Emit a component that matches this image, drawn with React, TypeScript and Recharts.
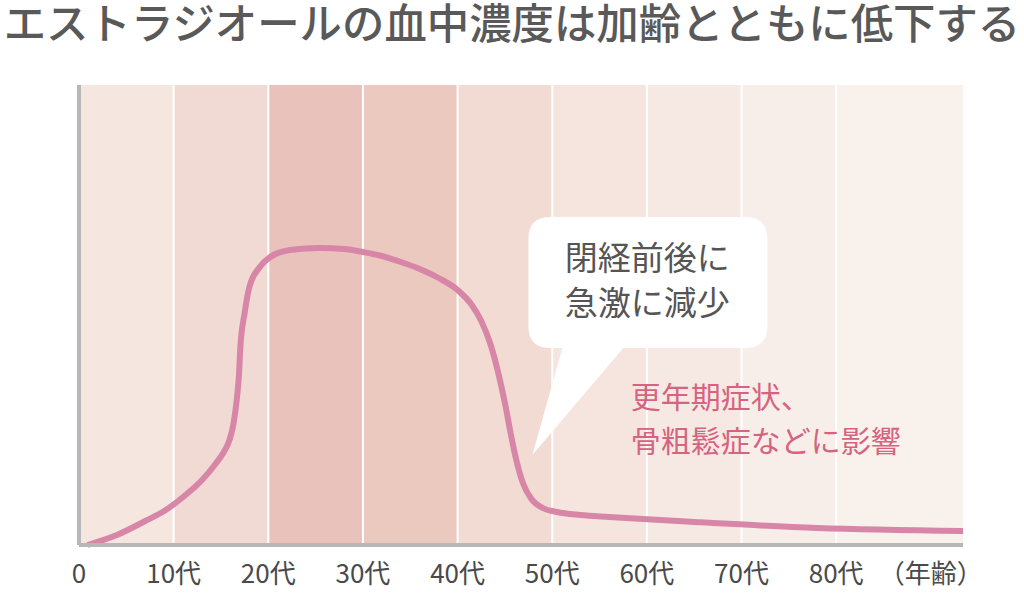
import React from 'react';
import {
  ComposedChart,
  Line,
  XAxis,
  YAxis,
  ReferenceArea,
  ReferenceLine,
  ReferenceDot,
} from 'recharts';

const FONT = '"Noto Sans CJK JP", "Noto Sans", sans-serif';

// curve: age (years) vs relative level
const ages = [
  0.9, 4, 7, 9, 11, 13, 14.5, 15.3, 15.9, 16.3, 16.7, 16.9, 17.05, 17.5, 18.0, 19.1, 20.2, 22.3,
  25.4, 28, 30, 32, 34, 36, 38, 40, 41.5, 42.5, 43.5, 44.3, 45, 45.6, 46.2, 46.9, 47.8, 49, 50.5,
  53, 56, 65, 78, 93.4,
];
const levels = [
  0, 10, 24, 34, 48, 65, 82, 93, 105, 120, 148, 170, 198, 232, 258, 278, 288, 295, 297, 296, 293,
  289, 283, 276, 267, 255, 240, 224, 200, 172, 142, 112, 85, 62, 46, 37, 33, 30, 28, 23, 17, 14,
];

const decadeStarts = [0, 10, 20, 30, 40, 50, 60, 70, 80];
const decadeEnds = [10, 20, 30, 40, 50, 60, 70, 80, 93.4];
const bandColors = [
  '#f6e6e0',
  '#f1dad3',
  '#e9c2bb',
  '#ebc9bf',
  '#f1dbd2',
  '#f5e5de',
  '#f6e9e4',
  '#f8eee9',
  '#f9f1ec',
];
const tickValues = [0, 10, 20, 30, 40, 50, 60, 70, 80, 90];
const tickLabels = ['0', '10代', '20代', '30代', '40代', '50代', '60代', '70代', '80代', '（年齢）'];

const title = 'エストラジオールの血中濃度は加齢とともに低下する';
const bubbleLines = ['閉経前後に', '急激に減少'];
const noteLines = ['更年期症状、', '骨粗鬆症などに影響'];

const data = ages.map((age, i) => ({ age, level: levels[i] }));

function AgeTick(props: any) {
  const { x, y, payload } = props;
  const i = tickValues.indexOf(payload.value);
  return (
    <text x={x} y={y + 38} textAnchor="middle" fill="#4a4a4a" fontSize={26} fontFamily={FONT}>
      {tickLabels[i]}
    </text>
  );
}

// speech bubble, drawn relative to the tail tip
function Bubble(props: any) {
  const { cx, cy } = props;
  const l = cx - 4;
  const r = cx + 235;
  const t = cy - 238;
  const b = cy - 107;
  const rad = 22;
  const d = [
    `M${l + rad},${t}`,
    `H${r - rad}`,
    `Q${r},${t} ${r},${t + rad}`,
    `V${b - rad}`,
    `Q${r},${b} ${r - rad},${b}`,
    `H${cx + 91}`,
    `L${cx},${cy}`,
    `L${cx + 30},${b}`,
    `H${l + rad}`,
    `Q${l},${b} ${l},${b - rad}`,
    `V${t + rad}`,
    `Q${l},${t} ${l + rad},${t}`,
    'Z',
  ].join(' ');
  return (
    <g>
      <path d={d} fill="#ffffff" />
      {bubbleLines.map((s, i) => (
        <text
          key={s}
          x={cx + 115}
          y={t + 53 + i * 45}
          textAnchor="middle"
          fill="#555555"
          fontSize={33}
          fontFamily={FONT}
        >
          {s}
        </text>
      ))}
    </g>
  );
}

function Note(props: any) {
  const { cx, cy } = props;
  return (
    <g>
      {noteLines.map((s, i) => (
        <text key={s} x={cx} y={cy + i * 44} fill="#d6637f" fontSize={30} fontFamily={FONT}>
          {s}
        </text>
      ))}
    </g>
  );
}

export default function App() {
  return (
    <div style={{ position: 'absolute', left: 0, top: 0, width: 1024, height: 594, background: '#fff' }}>
      <svg width={1024} height={60} style={{ position: 'absolute', left: 0, top: 0 }}>
        <text
          x={512}
          y={39}
          textAnchor="middle"
          fill="#595959"
          fontSize={42.4}
          fontWeight={500}
          fontFamily={FONT}
        >
          {title}
        </text>
      </svg>
      <ComposedChart
        width={1024}
        height={594}
        data={data}
        margin={{ top: 85, right: 61, bottom: 0, left: 79 }}
        style={{ position: 'absolute', left: 0, top: 0 }}
      >
        <XAxis
          dataKey="age"
          type="number"
          domain={[0, 93.4]}
          ticks={tickValues}
          allowDataOverflow
          height={49}
          tickLine={false}
          tickSize={0}
          tickMargin={0}
          tick={<AgeTick />}
          axisLine={{ stroke: '#b7b7b7', strokeWidth: 4 }}
          interval={0}
        />
        <YAxis type="number" domain={[0, 460]} hide />
        {decadeStarts.map((s, i) => (
          <ReferenceArea
            key={s}
            x1={s}
            x2={decadeEnds[i]}
            y1={0}
            y2={460}
            fill={bandColors[i]}
            fillOpacity={1}
            stroke="none"
          />
        ))}
        {decadeStarts.slice(1).map((s) => (
          <ReferenceLine key={s} x={s} stroke="#ffffff" strokeWidth={2} />
        ))}
        <ReferenceLine x={0} stroke="#b7b7b7" strokeWidth={4} />
        <ReferenceDot x={47.9} y={90} r={0} shape={<Bubble />} />
        <ReferenceDot x={58.3} y={137} r={0} shape={<Note />} />
        <Line
          type="monotone"
          dataKey="level"
          stroke="#d886a8"
          strokeWidth={6}
          dot={false}
          isAnimationActive={false}
        />
      </ComposedChart>
    </div>
  );
}
